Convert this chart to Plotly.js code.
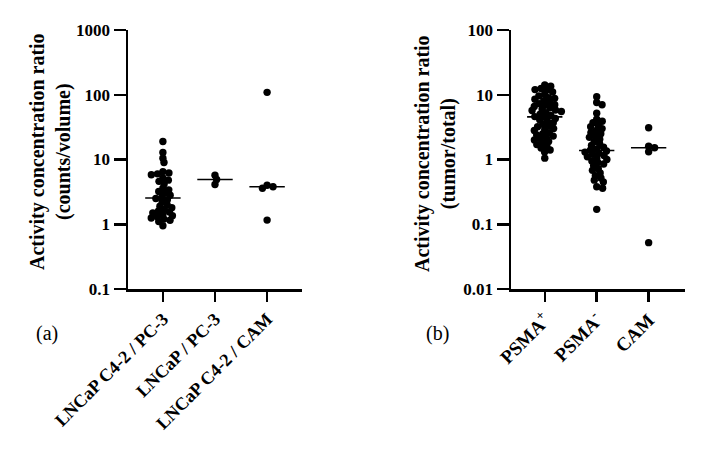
<!DOCTYPE html>
<html><head><meta charset="utf-8">
<script src="https://cdn.plot.ly/plotly-3.0.1.min.js"></script>
<style>body{margin:0;background:#fff}#chart{width:718px;height:452px}</style>
</head><body><div id="chart"></div>
<script>
// ---- data ----
const catsA = ['LNCaP C4-2 / PC-3', 'LNCaP / PC-3', 'LNCaP C4-2 / CAM'];
const c42Pc3 = [19, 12.8, 10.5, 9, 6.5, 6.2, 6, 5.8, 5.2, 4.8, 4.6, 4.2, 3.6, 3.4, 3.2, 3.0, 2.8, 2.6, 2.5, 2.4,
                2.2, 2.0, 1.9, 1.8, 1.7, 1.6, 1.55, 1.5, 1.4, 1.35, 1.3, 1.25, 1.2, 1.15, 1.1, 0.95];
const lncapPc3 = [5.7, 4.9, 4.1];
const c42Cam = [109, 4.0, 3.8, 3.6, 1.16];

const catsB = ['PSMA<sup>+</sup>', 'PSMA<sup>-</sup>', 'CAM'];
const psmaPos = [14.2, 13.5, 12.5, 12.0, 11.8, 11, 10.2, 9.6, 9, 8.8, 8.5, 8.1, 7.7, 7.3, 7.0, 6.9, 6.6, 6.3, 6.0, 5.8,
                 5.7, 5.5, 5.3, 5.0, 4.8, 4.6, 4.5, 4.3, 4.1, 3.9, 3.7, 3.5, 3.3, 3.2, 3.0, 2.9, 2.8, 2.6, 2.5, 2.4,
                 2.3, 2.2, 2.1, 2.0, 1.9, 1.8, 1.7, 1.6, 1.5, 1.4, 1.3, 1.05];
const psmaNeg = [9.3, 7.6, 7.0, 5.2, 4.2, 3.9, 3.7, 3.4, 3.2, 3.0, 2.8, 2.6, 2.5, 2.3, 2.2, 2.05, 1.9, 1.75, 1.65, 1.55,
                 1.45, 1.4, 1.35, 1.3, 1.25, 1.2, 1.15, 1.1, 1.05, 1.0, 0.95, 0.9, 0.85, 0.8, 0.72, 0.68, 0.62, 0.56, 0.52, 0.48,
                 0.45, 0.38, 0.36, 0.17];
const camB = [3.1, 1.6, 1.52, 1.32, 0.052];

const yTicksA = [0.1, 1, 10, 100, 1000];
const yTickTextA = ['0.1', '1', '10', '100', '1000'];
const yTicksB = [0.01, 0.1, 1, 10, 100];
const yTickTextB = ['0.01', '0.1', '1', '10', '100'];

// ---- geometry ----
const W = 718, H = 452;
const plotTop = 30, plotBot = 289;
const xA = [128, 302], xB = [511, 685];
const rangeA = [-0.67, 2.67], rangeB = [-0.65, 2.7];
const pxDec = (plotBot - plotTop) / 4;
const pxUnitA = (xA[1] - xA[0]) / (rangeA[1] - rangeA[0]);
const pxUnitB = (xB[1] - xB[0]) / (rangeB[1] - rangeB[0]);
const DX = 6.3, DY = 4.4, MS = 7.4, halfW = 0.34;

function swarm(vals, pxUnit) {
  const pts = vals.map((v, i) => ({i, y: Math.log10(v) * pxDec, x: 0}));
  const order = pts.slice().sort((a, b) => b.y - a.y);
  const placed = []; const off = new Array(vals.length).fill(0);
  const ok = (c, p) => placed.every(q => { const dx = (c - q.x) / DX, dy = (p.y - q.y) / DY; return dx * dx + dy * dy >= 1 - 1e-6; });
  for (const p of order) {
    const cands = [0];
    for (const q of placed) {
      const dy = (p.y - q.y) / DY;
      if (Math.abs(dy) < 1) { const dx = DX * Math.sqrt(1 - dy * dy); cands.push(q.x + dx, q.x - dx); }
    }
    cands.sort((a, b) => Math.abs(a) - Math.abs(b));
    let x = 0;
    for (const c of cands) { if (ok(c, p)) { x = c; break; } }
    p.x = x; placed.push(p); off[p.i] = x / pxUnit;
  }
  return off;
}
function median(a) {
  const s = a.slice().sort((x, y) => x - y); const n = s.length;
  return n % 2 ? s[(n - 1) / 2] : (s[n / 2 - 1] + s[n / 2]) / 2;
}

const traces = [];
function addGroup(vals, idx, pxUnit, xa, ya) {
  const m = median(vals);
  traces.push({type: 'scatter', mode: 'lines', x: [idx - halfW, idx + halfW], y: [m, m],
    line: {color: '#000', width: 1.6}, xaxis: xa, yaxis: ya, hoverinfo: 'skip'});
  const off = swarm(vals, pxUnit);
  traces.push({type: 'scatter', mode: 'markers', x: vals.map((v, i) => idx + off[i]), y: vals,
    marker: {color: '#000', size: MS, line: {width: 0}}, xaxis: xa, yaxis: ya});
}
[c42Pc3, lncapPc3, c42Cam].forEach((g, i) => addGroup(g, i, pxUnitA, 'x', 'y'));
[psmaPos, psmaNeg, camB].forEach((g, i) => addGroup(g, i, pxUnitB, 'x2', 'y2'));

const serif = 'Liberation Serif, DejaVu Serif, serif';
const base = {showline: true, linecolor: '#000', linewidth: 2.5, ticks: 'outside', ticklen: 10, tickwidth: 2.5,
  tickcolor: '#000', showgrid: false, zeroline: false, fixedrange: true};
const yDom = [1 - plotBot / H, 1 - plotTop / H];

const layout = {
  width: W, height: H, margin: {l: 0, r: 0, t: 0, b: 0}, showlegend: false,
  paper_bgcolor: '#fff', plot_bgcolor: '#fff',
  font: {family: serif, color: '#000'},
  xaxis: Object.assign({}, base, {domain: [xA[0] / W, xA[1] / W], range: rangeA, tickvals: [0, 1, 2], ticktext: catsA,
    tickangle: -45, tickfont: {size: 18, weight: 'bold', family: serif}, anchor: 'y'}),
  yaxis: Object.assign({}, base, {domain: yDom, type: 'log', range: [-1, 3], tickvals: yTicksA, ticktext: yTickTextA,
    tickfont: {size: 17, weight: 'bold', family: serif}, anchor: 'x', ticklen: 12}),
  xaxis2: Object.assign({}, base, {domain: [xB[0] / W, xB[1] / W], range: rangeB, tickvals: [0, 1, 2], ticktext: catsB,
    tickangle: -45, tickfont: {size: 19, weight: 'bold', family: serif}, anchor: 'y2'}),
  yaxis2: Object.assign({}, base, {domain: yDom, type: 'log', range: [-2, 2], tickvals: yTicksB, ticktext: yTickTextB,
    tickfont: {size: 17, weight: 'bold', family: serif}, anchor: 'x2', ticklen: 12}),
  annotations: [
    {text: 'Activity concentration ratio<br>(counts/volume)', xref: 'paper', yref: 'paper', x: 50 / W, y: 1 - 152 / H,
      textangle: -90, showarrow: false, xanchor: 'center', yanchor: 'middle', font: {size: 20, weight: 'bold', family: serif}},
    {text: 'Activity concentration ratio<br>(tumor/total)', xref: 'paper', yref: 'paper', x: 435 / W, y: 1 - 153 / H,
      textangle: -90, showarrow: false, xanchor: 'center', yanchor: 'middle', font: {size: 20, weight: 'bold', family: serif}},
    {text: '(a)', xref: 'paper', yref: 'paper', x: 47 / W, y: 1 - 333 / H, showarrow: false, xanchor: 'center', yanchor: 'middle',
      font: {size: 20, family: serif}},
    {text: '(b)', xref: 'paper', yref: 'paper', x: 437 / W, y: 1 - 333 / H, showarrow: false, xanchor: 'center', yanchor: 'middle',
      font: {size: 20, family: serif}}
  ]
};
Plotly.newPlot('chart', traces, layout, {staticPlot: true, displayModeBar: false});
</script>
</body></html>
